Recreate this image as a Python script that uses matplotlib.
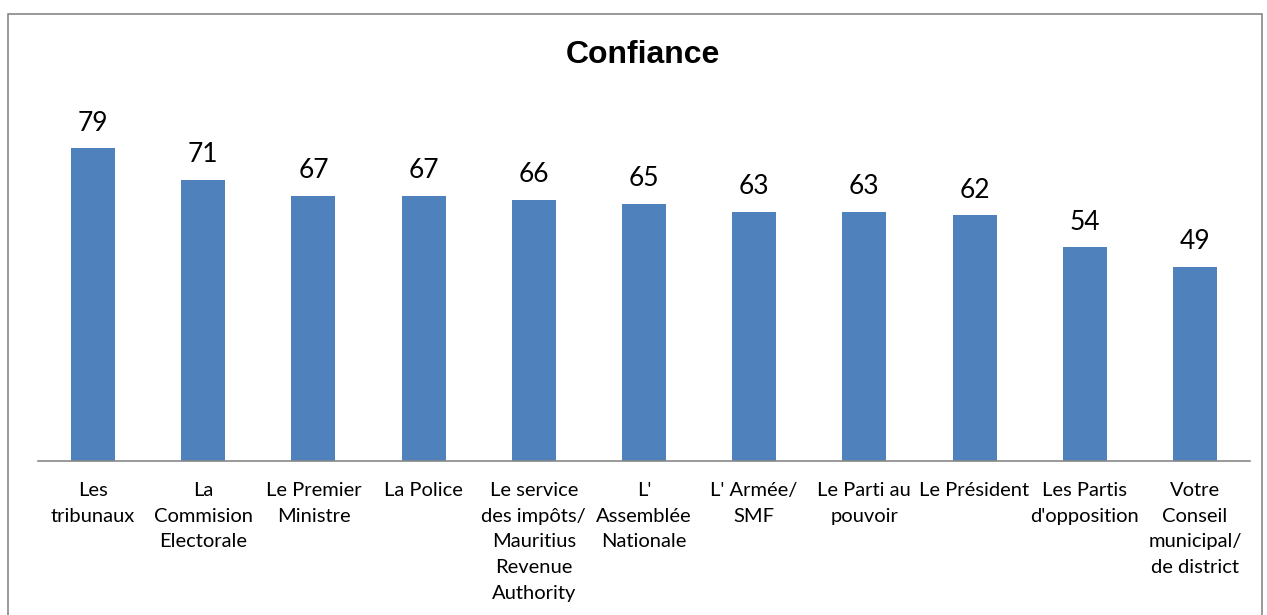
import matplotlib
matplotlib.use("Agg")
import matplotlib.pyplot as plt
from matplotlib.patches import Rectangle

# données
categories = [
    "Les\ntribunaux",
    "La\nCommision\nElectorale",
    "Le Premier\nMinistre",
    "La Police",
    "Le service\ndes impôts/\nMauritius\nRevenue\nAuthority",
    "L'\nAssemblée\nNationale",
    "L' Armée/\nSMF",
    "Le Parti au\npouvoir",
    "Le Président",
    "Les Partis\nd'opposition",
    "Votre\nConseil\nmunicipal/\nde district",
]
values = [79, 71, 67, 67, 66, 65, 63, 63, 62, 54, 49]

W, H = 1267, 615
fig = plt.figure(figsize=(W / 100, H / 100), dpi=100)

# cadre du graphique
fig.patches.append(Rectangle((8 / W, -0.05), (1262 - 8) / W, 1.05 - 14 / H,
                             transform=fig.transFigure, fill=False,
                             edgecolor="#888888", linewidth=1.2, clip_on=False))

ax = fig.add_axes([38 / W, 154 / H, (1250 - 38) / W, 400 / H])
x = range(len(values))
bars = ax.bar(x, values, width=0.4, color="#4F81BD")
ax.set_xlim(-0.5, len(values) - 0.5)
ax.set_ylim(0, 400 / 3.96)

for b, v in zip(bars, values):
    ax.annotate(str(v), (b.get_x() + b.get_width() / 2, v),
                xytext=(0, 18), textcoords="offset points",
                ha="center", va="center", fontsize=19, family="Lato")

ax.set_xticks(list(x))
ax.set_xticklabels(categories, fontsize=14.5, family="Lato", linespacing=1.62)
ax.tick_params(axis="x", length=0, pad=15)
ax.set_yticks([])
for s in ["top", "right", "left"]:
    ax.spines[s].set_visible(False)
ax.spines["bottom"].set_color("#888888")
ax.spines["bottom"].set_linewidth(1.2)

fig.text(643 / W, 1 - 55 / H, "Confiance", ha="center", va="center",
         fontsize=23, fontweight="bold", family="Liberation Sans")

fig.savefig("out.png", dpi=100)
